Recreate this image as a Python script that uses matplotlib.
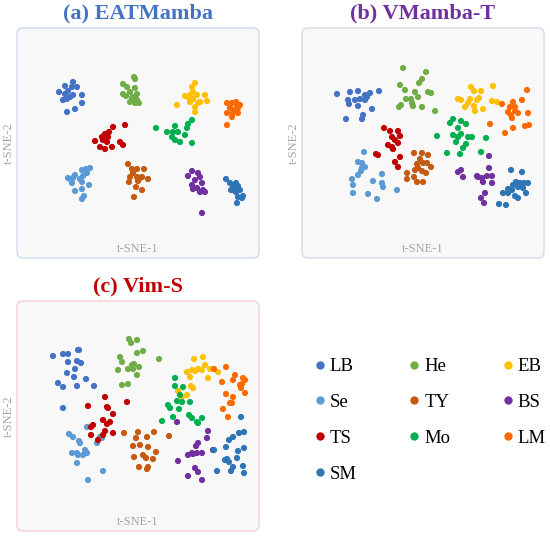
import matplotlib
matplotlib.use("Agg")
import matplotlib.pyplot as plt
from matplotlib.patches import FancyBboxPatch
from matplotlib.lines import Line2D

plt.rcParams['font.family'] = ['Liberation Serif', 'DejaVu Serif']

classes = ["LB", "He", "EB", "Se", "TY", "BS", "TS", "Mo", "LM", "SM"]
colors = {"LB": "#4472C4", "He": "#70AD47", "EB": "#FFC000", "Se": "#5B9BD5",
          "TY": "#C55A11", "BS": "#7030A0", "TS": "#C00000", "Mo": "#00B050",
          "LM": "#FF6A00", "SM": "#2E75B6"}

# t-SNE embeddings (arbitrary units), panel (a) EATMamba
emb_a = {
    "LB": [(65,86),(73,82),(77,87),(72,87),(59,92),(65,94),(68,91),(73,95),(82,95),(63,100),
           (67,99),(82,103),(75,109),(67,112),(70,97)],
    "He": [(134,77),(135,79),(123,84),(127,87),(135,88),(123,94),(130,92),(137,94),(126,96),(132,98),
           (137,100),(130,102),(135,103),(139,103),(133,97)],
    "TS": [(125,125),(113,127),(109,132),(105,134),(102,137),(95,141),(103,140),(107,142),(100,147),
           (105,149),(112,147),(120,142),(123,145),(108,137)],
    "Se": [(90,168),(86,169),(82,170),(87,173),(83,176),(75,175),(68,178),(73,178),(80,179),(72,183),
           (82,182),(89,185),(75,191),(82,189),(84,196),(82,199),(71,180)],
    "TY": [(128,164),(132,169),(137,169),(144,169),(133,173),(130,177),(137,177),(142,177),(148,179),
           (138,181),(129,182),(136,187),(142,190),(134,197),(140,178)],
    "EB": [(195,83),(192,87),(193,92),(185,96),(190,95),(197,95),(205,95),(193,99),(200,102),(190,102),
           (207,101),(177,105),(195,107),(195,112),(198,103),(188,97)],
    "LM": [(227,103),(232,103),(236,102),(240,105),(238,108),(230,108),(235,110),(227,113),(233,113),
           (238,113),(232,117),(227,125),(237,107)],
    "Mo": [(192,120),(188,124),(187,128),(175,126),(167,132),(173,132),(178,132),(185,135),(172,137),
           (175,140),(180,142),(192,143),(156,128)],
    "BS": [(192,171),(198,173),(188,176),(200,177),(195,180),(192,185),(202,183),(197,188),(203,190),
           (205,192),(200,192),(193,189),(202,213)],
    "SM": [(226,179),(230,183),(236,183),(238,186),(233,187),(231,190),(235,191),(240,190),(243,196),
           (242,198),(238,197),(237,203),(236,192)],
}

# panel (b) VMamba-T
emb_b = {
    "LB": [(337,94),(350,92),(358,91),(365,95),(370,93),(379,91),(348,100),(355,100),(360,99),(365,100),
           (349,104),(358,106),(372,109),(363,115),(362,119),(346,119),(367,97)],
    "He": [(403,68),(426,72),(422,79),(419,83),(400,85),(405,90),(415,92),(428,92),(431,93),(411,99),
           (418,97),(406,99),(401,105),(399,107),(413,106),(422,107),(435,111),(412,103)],
    "EB": [(471,87),(474,91),(481,91),(493,86),(458,99),(461,100),(470,99),(477,100),(468,103),(474,106),
           (465,107),(475,111),(483,109),(492,101),(497,102),(479,98)],
    "LM": [(527,90),(522,100),(513,102),(502,104),(510,107),(515,107),(508,112),(515,111),(518,113),
           (528,113),(512,118),(490,124),(513,128),(505,133),(525,126),(529,125),(511,115)],
    "TS": [(384,128),(390,131),(398,131),(392,137),(400,136),(395,140),(388,145),(398,143),(393,149),
           (376,154),(378,155),(400,157),(395,162),(398,167),(392,147)],
    "Mo": [(453,119),(450,123),(461,121),(466,124),(458,128),(453,135),(461,134),(468,137),(472,137),
           (437,136),(456,142),(466,144),(463,148),(460,154),(447,153),(486,138),(481,152),(458,137)],
    "TY": [(414,153),(422,153),(428,155),(420,159),(423,163),(417,164),(427,163),(431,167),(407,173),
           (415,170),(422,171),(426,173),(407,179),(414,177),(417,182),(423,182),(418,168)],
    "Se": [(364,152),(358,162),(362,163),(365,167),(361,171),(352,179),(358,175),(373,181),(382,174),
           (382,183),(383,187),(353,185),(368,194),(353,193),(377,199),(397,190),(362,168)],
    "BS": [(489,156),(489,168),(461,170),(458,172),(463,177),(477,176),(482,178),(487,176),(492,176),
           (483,182),(492,183),(485,193),(481,198),(484,203),(478,177)],
    "SM": [(511,170),(522,172),(516,182),(520,183),(524,183),(528,183),(513,185),(518,187),(523,188),
           (508,189),(503,193),(512,190),(508,193),(515,196),(518,198),(499,204),(506,205),(526,193)],
}

# panel (c) Vim-S
emb_c = {
    "LB": [(53,356),(63,354),(68,354),(78,350),(79,350),(68,362),(77,361),(81,363),(75,369),(67,373),
           (74,377),(86,379),(94,386),(77,386),(58,383),(63,387),(63,408)],
    "He": [(129,339),(137,340),(131,343),(143,351),(137,353),(120,357),(122,362),(134,364),(139,367),
           (118,370),(128,369),(133,369),(137,375),(122,385),(128,384),(159,359),(132,365)],
    "EB": [(194,359),(203,357),(205,365),(202,370),(210,369),(192,370),(187,372),(195,371),(190,377),
           (218,372),(208,378),(191,386),(193,388),(178,391),(187,395),(182,397),(198,369)],
    "LM": [(214,369),(226,367),(235,375),(243,378),(245,380),(222,382),(233,380),(240,385),(241,388),
           (245,393),(226,394),(233,397),(232,403),(223,409),(228,417),(230,403),(242,384)],
    "Mo": [(175,378),(175,386),(183,387),(180,395),(177,401),(182,402),(168,405),(170,408),(190,402),
           (173,417),(189,415),(192,418),(197,422),(202,418),(198,423),(162,421),(179,409)],
    "TS": [(105,397),(88,406),(107,407),(108,408),(113,414),(103,420),(110,422),(107,424),(93,425),
           (91,427),(105,431),(113,433),(91,435),(103,435),(98,440),(127,402)],
    "Se": [(87,427),(69,434),(73,437),(79,441),(80,443),(102,438),(97,443),(85,450),(72,453),(77,453),
           (87,453),(83,455),(78,455),(77,463),(103,471),(88,480),(100,437)],
    "TY": [(124,433),(138,432),(154,432),(136,438),(147,437),(169,436),(133,446),(140,445),(148,447),
           (156,452),(134,457),(143,455),(153,459),(146,458),(139,467),(147,469),(148,467)],
    "BS": [(177,422),(208,431),(207,438),(198,443),(196,446),(213,450),(202,453),(188,455),(193,454),
           (197,453),(178,461),(195,468),(198,472),(188,476),(202,480),(192,453)],
    "SM": [(241,417),(244,432),(239,433),(233,437),(229,440),(226,447),(214,450),(238,451),(244,448),
           (225,460),(229,462),(233,467),(237,458),(243,466),(244,473),(217,471),(231,471),(227,459)],
}

W, H = 550, 536
fig = plt.figure(figsize=(5.5, 5.36), dpi=100)

panels = [
    ("(a) EATMamba", "#4472C4", "#CFDBEC", emb_a, (17, 28)),
    ("(b) VMamba-T", "#7030A0", "#DED6EA", emb_b, (302, 28)),
    ("(c) Vim-S", "#C00000", "#F2CFCF", emb_c, (17, 301)),
]
pw, ph = 242, 230

for title, tcol, bcol, emb, (px, py) in panels:
    ax = fig.add_axes([px / W, 1 - (py + ph) / H, pw / W, ph / H])
    ax.set_xlim(px, px + pw)
    ax.set_ylim(py + ph, py)
    ax.patch.set_visible(False)
    for s in ax.spines.values():
        s.set_visible(False)
    ax.set_xticks([])
    ax.set_yticks([])
    box = FancyBboxPatch((0, 0), 1, 1, boxstyle="round,pad=0,rounding_size=0.025",
                         transform=ax.transAxes, facecolor="#F8F8F8", edgecolor=bcol,
                         linewidth=1.0, zorder=0, clip_on=False)
    ax.add_patch(box)
    for c in classes:
        xs = [p[0] for p in emb[c]]
        ys = [p[1] for p in emb[c]]
        ax.scatter(xs, ys, s=20, color=colors[c], edgecolors="none", zorder=2)
    ax.set_title(title, color=tcol, fontsize=16, fontweight="bold", pad=6.5)
    ax.text(0.5, 0.012, "t-SNE-1", transform=ax.transAxes, ha="center", va="bottom",
            color="#A6A6A6", fontsize=9)
    ax.text(-0.035, 0.5, "t-SNE-2", transform=ax.transAxes, ha="center", va="center",
            rotation=90, color="#A6A6A6", fontsize=9)

legend_order = ["LB", "Se", "TS", "SM", "He", "TY", "Mo", "EB", "BS", "LM"]
handles = [Line2D([], [], marker="o", linestyle="none", markersize=6,
                  markerfacecolor=colors[c], markeredgecolor="none") for c in legend_order]
fig.legend(handles, legend_order, ncol=3, frameon=False, fontsize=13.5,
           loc="upper left", bbox_to_anchor=(314 / W, 1 - 358 / H),
           handlelength=0.6, handletextpad=0.25, columnspacing=2.75, labelspacing=1.0,
           borderaxespad=0, borderpad=0)

fig.savefig("out.png", dpi=100)
